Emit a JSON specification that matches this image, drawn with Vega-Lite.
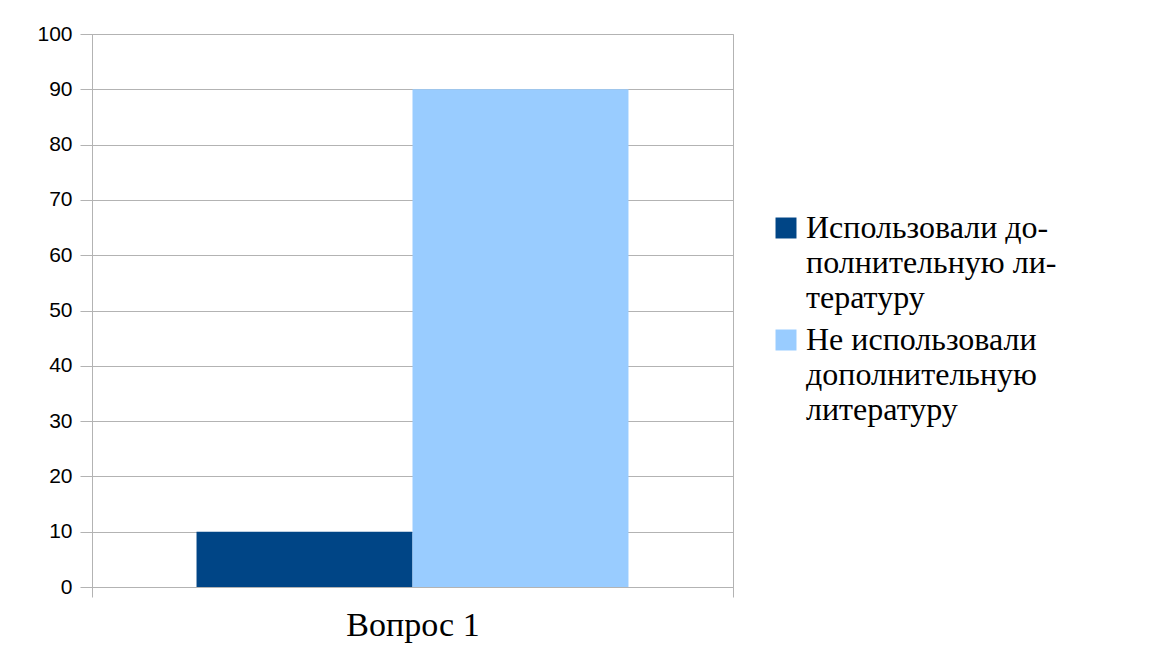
{
  "$schema": "https://vega.github.io/schema/vega-lite/v6.json",
  "width": 641,
  "height": 553,
  "autosize": {"type": "none"},
  "padding": {"left": 92, "top": 34, "right": 426, "bottom": 66},
  "background": "white",
  "data": {
    "values": [
      {"q": "Вопрос 1", "group": "Использовали дополнительную литературу", "value": 10},
      {"q": "Вопрос 1", "group": "Не использовали дополнительную литературу", "value": 90}
    ]
  },
  "mark": {"type": "bar"},
  "encoding": {
    "x": {
      "field": "q",
      "type": "nominal",
      "title": null,
      "scale": {"paddingInner": 0, "paddingOuter": 0},
      "axis": {
        "labelAngle": 0,
        "tickBand": "extent",
        "tickSize": 10,
        "tickColor": "#b3b3b3",
        "domainColor": "#b3b3b3",
        "labelFont": "Liberation Serif",
        "labelFontSize": 34,
        "labelColor": "#000000",
        "labelBaseline": "top",
        "labelPadding": 11,
        "grid": false
      }
    },
    "xOffset": {
      "field": "group",
      "type": "nominal",
      "scale": {"paddingInner": 0, "paddingOuter": 0.484}
    },
    "y": {
      "field": "value",
      "type": "quantitative",
      "title": null,
      "scale": {"domain": [0, 100], "nice": false},
      "axis": {
        "values": [0, 10, 20, 30, 40, 50, 60, 70, 80, 90, 100],
        "tickSize": 12,
        "tickColor": "#b3b3b3",
        "domainColor": "#b3b3b3",
        "gridColor": "#b3b3b3",
        "labelFont": "Liberation Sans",
        "labelFontSize": 21,
        "labelColor": "#000000",
        "labelPadding": 8
      }
    },
    "color": {
      "field": "group",
      "type": "nominal",
      "title": null,
      "scale": {"range": ["#004586", "#99ccff"]},
      "legend": {
        "orient": "none",
        "legendX": 678,
        "legendY": 178,
        "padding": 0,
        "symbolType": "square",
        "symbolSize": 440,
        "symbolStrokeWidth": 0,
        "labelOffset": 4,
        "labelFont": "Liberation Serif",
        "labelFontSize": 32,
        "labelColor": "#000000",
        "labelLimit": 400,
        "labelBaseline": "middle",
        "rowPadding": 10,
        "labelExpr": "datum.label == 'Использовали дополнительную литературу' ? ['Использовали до-', 'полнительную ли-', 'тературу'] : ['Не использовали', 'дополнительную', 'литературу']"
      }
    }
  },
  "config": {
    "view": {"stroke": "#b3b3b3"},
    "legend": {"labelFont": "Liberation Serif"},
    "style": {"guide-label": {"lineHeight": 35, "font": "Liberation Serif"}}
  }
}
